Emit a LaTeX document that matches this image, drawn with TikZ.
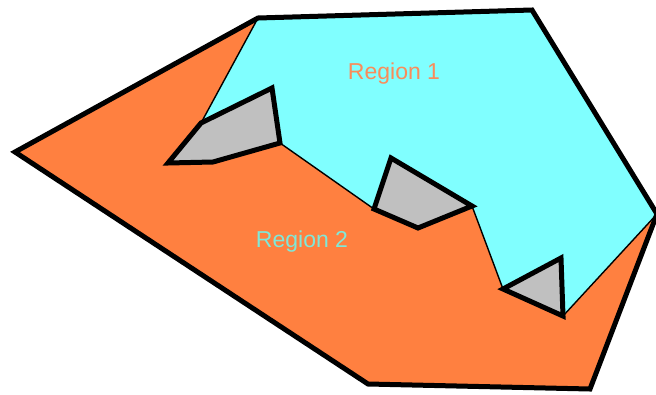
\documentclass[tikz,border=0pt]{standalone}
\usepackage{fontspec}
\setmainfont{Liberation Sans}
\usepackage{tikz}
\usetikzlibrary{positioning}
\definecolor{regorange}{RGB}{255,128,64}
\definecolor{regcyan}{RGB}{128,255,255}
\definecolor{holegray}{RGB}{192,192,192}
\definecolor{labelorange}{RGB}{250,140,90}
\definecolor{labelcyan}{RGB}{128,232,216}
\tikzset{
outline/.style={
	draw=black,
	line width=5pt,
	line join=miter
},
divider/.style={
	draw=black,
	line width=1.4pt
},
hole/.style={
	outline,
	fill=holegray
},
regionlabel/.style={
	font=\fontsize{23}{25}\selectfont,
	inner sep=0pt
}
}

\begin{document}
\begin{tikzpicture}[x=1pt, y=-1pt]
\clip (0,0) rectangle (656,394);
% ===== Outer boundary =====
\coordinate (west)   at (15,152);
\coordinate (topl)   at (258,18);
\coordinate (topr)   at (532,10);
\coordinate (east)   at (657,214);
\coordinate (botr)   at (590,389);
\coordinate (botl)   at (368,384);
% ===== Holes =====
\coordinate (h1a) at (201,123);
\coordinate (h1b) at (272,88);
\coordinate (h1c) at (280,143);
\coordinate (h1d) at (213,162);
\coordinate (h1e) at (168,163);
\coordinate (h2a) at (391,158);
\coordinate (h2b) at (472,206);
\coordinate (h2c) at (418,228);
\coordinate (h2d) at (374,209);
\coordinate (h3a) at (503,289);
\coordinate (h3b) at (561,258);
\coordinate (h3c) at (563,316);

% Region 2 (whole polygon first)
\fill[regorange] (west) -- (topl) -- (topr) -- (east) -- (botr) -- (botl) -- cycle;
% Region 1 on top
\filldraw[fill=regcyan, divider] (topl) -- (topr) -- (east) -- (h3c) -- (h3b) -- (h3a)
      -- (h2b) -- (h2a) -- (h2d) -- (h1c) -- (h1b) -- (h1a) -- cycle;

% holes
\draw[hole] (h1a) -- (h1b) -- (h1c) -- (h1d) -- (h1e) -- cycle;
\draw[hole] (h2a) -- (h2b) -- (h2c) -- (h2d) -- cycle;
\draw[hole] (h3a) -- (h3b) -- (h3c) -- cycle;

% outer boundary on top
\draw[outline] (west) -- (topl) -- (topr) -- (east) -- (botr) -- (botl) -- cycle;

\node[regionlabel, text=labelorange] (reg1) at (394,74)  {Region 1};
\node[regionlabel, text=labelcyan]   (reg2) at (302,242) {Region 2};
\end{tikzpicture}
\end{document}
